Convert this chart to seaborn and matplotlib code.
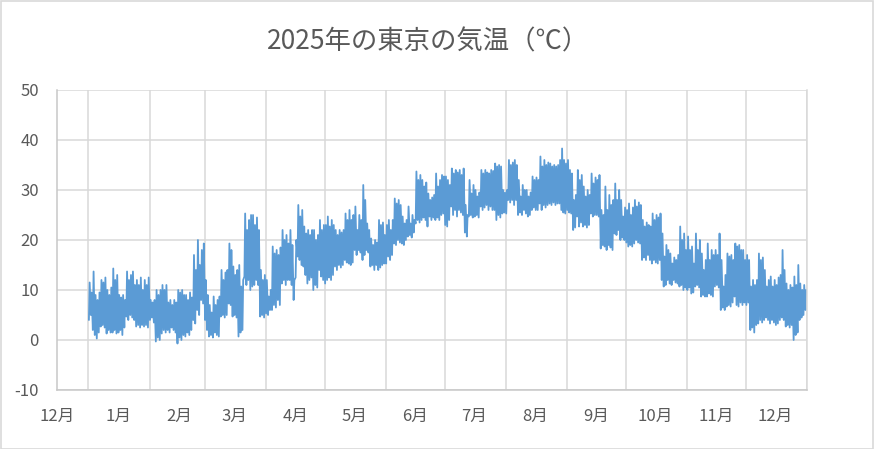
import pandas as pd
import matplotlib
matplotlib.use("Agg")
import matplotlib.pyplot as plt
import matplotlib.dates as mdates
import matplotlib.patches as patches
from matplotlib.ticker import FuncFormatter
import seaborn as sns

# daily lows / highs (deg C), Jan 1 .. Dec 31 2025
daily_high = [
    # Jan
    11.5, 9.5, 13.7, 9, 8, 9.5, 12, 11.5, 12.5, 10, 9, 10.5, 14.3, 12, 13, 9,
    8.5, 9, 8, 13.7, 12, 13, 13.7, 11, 12, 11, 12.5, 10, 12, 11, 12.5,
    # Feb
    8, 7.5, 8, 10, 9, 10, 11, 10, 11, 7.5, 8, 7, 8, 7.5, 10, 9.5, 10, 9,
    9, 8, 9.5, 8.5, 17, 14, 20, 15, 18, 19.3,
    # Mar
    12, 9, 7, 5.5, 8.7, 7, 8, 8.7, 14, 12, 13.5, 14, 19.3, 18, 14.7, 13, 14,
    15, 10.7, 12, 25.3, 22, 24, 25, 25, 23, 24.5, 22, 14, 12, 13,
    # Apr
    12, 8.7, 10, 18.7, 17.3, 18, 17, 18.5, 22, 20, 21, 19.3, 22, 19, 12, 20,
    27, 24.7, 26, 22.7, 21.3, 22, 21, 22, 22, 20, 21, 24, 22, 23,
    # May
    23, 24.7, 22.7, 24, 23, 22, 21, 22, 21.5, 22, 25.3, 24, 26, 24, 25, 26.7,
    22, 25, 24, 31, 28, 23.3, 22, 20.3, 19, 20, 19.5, 24, 23, 23.5, 21,
    # Jun
    23, 24, 22, 24, 28.3, 27.3, 28, 27, 24.7, 23.3, 24, 26.7, 23.3, 25, 24,
    33.7, 32, 33, 32, 30.7, 31.5, 29.3, 28, 28.5, 29, 33.3, 30.7, 32, 33, 32.7,
    # Jul
    32.7, 32, 31, 34.3, 33.3, 34, 33.5, 34, 33, 34.3, 27, 25, 32, 29.3, 31,
    30, 28.7, 29.5, 34, 33.3, 34, 33.5, 33.3, 34, 33.8, 35.3, 34.7, 35, 34.7,
    30, 29.5,
    # Aug
    30, 36, 35, 35.5, 36, 35, 32, 28.7, 31, 30, 30, 28.7, 29.5, 32.7, 32,
    32.5, 32, 36.7, 34.7, 36, 35, 35.5, 35.3, 34.7, 35, 34.7, 35, 36, 38.3,
    36, 35.3,
    # Sep
    36, 34, 33.3, 28, 29, 34, 32, 33, 30.7, 28.7, 30, 29, 33.3, 31.3, 32.5,
    32, 33, 26, 25, 30.7, 26, 29, 27, 28, 31.3, 28, 30, 28, 24.7, 26.5,
    # Oct
    26, 27.3, 25, 26.5, 28, 26.7, 27.5, 27, 24, 22.7, 23.5, 23, 22.7, 25.3,
    24, 25, 24.5, 25.3, 21.3, 16.7, 19, 18, 17.3, 15.3, 16.5, 16, 17, 22.7,
    20, 21.3, 18,
    # Nov
    20.7, 18, 18.7, 15.3, 21.3, 18, 20, 17.3, 14, 16, 19.3, 16, 18, 17, 18,
    17, 21.3, 16, 10.7, 13, 17.3, 16.7, 17, 16, 19.3, 18.7, 19, 18, 18, 16,
    # Dec
    17, 16, 10.7, 12, 11, 12, 17.3, 16, 16.5, 14, 10.7, 12, 12.7, 10.7, 12,
    11, 12.5, 13, 18, 14, 11.3, 10, 11, 10.5, 12.7, 11, 15, 11.3, 10, 11, 10,
]

daily_low = [
    # Jan
    4, 5, 2, 1, 0.3, 1.5, 2.7, 3, 2.5, 1.3, 2, 1.5, 1.5, 2, 1.3, 1.5, 2, 1,
    2.5, 4.7, 4, 5, 4.5, 4, 2.7, 3, 2.5, 3, 2.7, 3, 2.5,
    # Feb
    4, 4.5, 3.5, -0.3, 0.5, 0, 1.3, 2, 1.5, 2, 1.5, 2.5, 2, 1.5, -0.7, 0.5,
    0, 1, 0.7, 1.5, 1, 2, 4, 3.3, 6, 5, 8, 7.3,
    # Mar
    4, 2, 0.7, 1, 0.5, 1.5, 1, 0.7, 4.7, 5, 4.5, 5, 7.3, 7, 4.7, 5, 4.5, 0.7,
    1.5, 2, 12.7, 11, 12, 10, 10.7, 11, 12, 11, 4.7, 5, 4.5,
    # Apr
    5.3, 5, 6, 6, 7, 6.5, 8, 7, 11.3, 12, 11, 12, 12, 11, 8, 12.5, 16.7, 16,
    15, 14.7, 13, 11.3, 12, 12.5, 10, 11, 10.5, 14, 12.7, 12,
    # May
    11.3, 12, 12.5, 12, 13, 14.7, 14, 15, 14.5, 15, 16, 15.5, 15.3, 15, 15.5,
    18, 17, 18, 17.5, 16, 17, 18, 17.5, 14.7, 15, 14, 15, 14, 14.5, 15, 15.3,
    # Jun
    15.3, 16.7, 16, 17, 19.3, 19, 20, 19.5, 19.3, 19, 20, 20.7, 21, 20.5,
    21.5, 23.3, 24, 23.5, 24, 24.5, 24, 22.7, 24.7, 24, 24.5, 24, 24.5, 24,
    25, 25.3,
    # Jul
    23, 22.7, 24, 26.7, 25, 26, 24.7, 26, 25.5, 25, 21.5, 20.7, 24.7, 25,
    24.5, 24.7, 25, 24.5, 26.7, 26, 26.5, 27, 26, 26.7, 26, 26, 24, 25, 24.5,
    25.3, 25.5,
    # Aug
    25.3, 28, 27.5, 28, 27, 28, 25, 25.5, 25, 26, 25.3, 24.7, 25, 26, 26.5,
    26, 26, 27.3, 26, 27, 26.5, 27, 27.3, 27, 27.5, 27, 27.3, 27.3, 26, 25.5,
    25.3,
    # Sep
    26, 25.5, 25.3, 22, 22.5, 24.7, 22.7, 23.5, 22.7, 23, 22.5, 23, 25.3,
    24.7, 25, 25, 24.7, 18.3, 19, 18.7, 18, 19, 18.5, 18, 21.3, 21, 22, 20,
    20.5, 20,
    # Oct
    19.5, 18.7, 19, 18.7, 19.3, 20, 19.5, 19.3, 16, 16.5, 16, 17, 16, 15.3,
    16, 15.5, 15.3, 16, 12, 10.7, 11, 12, 11.3, 11, 12, 11.5, 11.3, 10.7, 11,
    10, 10.5,
    # Nov
    10, 10.5, 9.3, 9.5, 10.7, 11, 10.5, 8.7, 9, 8.7, 8.7, 9.3, 9, 8.7, 10.7,
    11, 10.5, 6, 6.5, 6, 6.7, 7, 6.7, 7.5, 8.7, 7, 6.7, 7.5, 7, 7.5,
    # Dec
    7, 7.5, 2, 2.5, 1.5, 3, 3.3, 4, 3.5, 4, 4.5, 4, 3.3, 4, 3.5, 3, 3.3, 4,
    4.5, 4, 2.7, 3, 2.5, 3, 0, 1, 1.5, 4, 4.5, 5, 6,
]

days = pd.date_range("2025-01-01", "2025-12-31", freq="D")
rows = []
for d, lo, hi in zip(days, daily_low, daily_high):
    rows.append((d + pd.Timedelta(hours=5), lo))
    rows.append((d + pd.Timedelta(hours=14), hi))
df = pd.DataFrame(rows, columns=["time", "temp"])

sns.set_theme(style="white")
plt.rcParams["font.family"] = ["Noto Sans CJK JP", "DejaVu Sans"]
plt.rcParams["axes.unicode_minus"] = False

text_color = "#595959"
grid_color = "#D9D9D9"

fig = plt.figure(figsize=(8.75, 4.49), dpi=100)
ax = fig.add_axes([57 / 875, 1 - 390 / 449, 750 / 875, 300 / 449])

sns.lineplot(data=df, x="time", y="temp", color="#5B9BD5", linewidth=1.3,
             estimator=None, ax=ax)

ax.set_xlim(pd.Timestamp("2024-12-16"), pd.Timestamp("2026-01-01"))
ax.set_ylim(-10, 50)
ax.set_yticks(range(-10, 51, 10))

# gridlines on month starts, labels in the middle of each month
ax.xaxis.set_major_locator(mdates.MonthLocator(bymonthday=1))
ax.xaxis.set_major_formatter(FuncFormatter(lambda v, p: ""))
ax.xaxis.set_minor_locator(mdates.MonthLocator(bymonthday=16))
ax.xaxis.set_minor_formatter(
    FuncFormatter(lambda v, p: f"{mdates.num2date(v).month}月"))

ax.grid(True, which="major", color=grid_color, linewidth=1.1)
ax.set_axisbelow(True)
ax.tick_params(axis="both", which="both", length=0, labelsize=12,
               labelcolor=text_color)
ax.tick_params(axis="y", pad=13)
ax.tick_params(axis="x", which="minor", pad=13)

ax.spines["top"].set_visible(False)
ax.spines["right"].set_color(grid_color)
ax.spines["right"].set_linewidth(1.1)
for side in ["left", "bottom"]:
    ax.spines[side].set_color("#C8C8C8")
    ax.spines[side].set_linewidth(1.1)

ax.set_xlabel("")
ax.set_ylabel("")

fig.text(428 / 875, 1 - 42 / 449, "2025年の東京の気温（℃）", ha="center",
         va="center", fontsize=19, color=text_color)

fig.patches.append(patches.Rectangle((0.001, 0.001), 0.997, 0.997,
                                     transform=fig.transFigure, fill=False,
                                     edgecolor=grid_color, linewidth=1.2))

fig.savefig("out.png", dpi=100)
